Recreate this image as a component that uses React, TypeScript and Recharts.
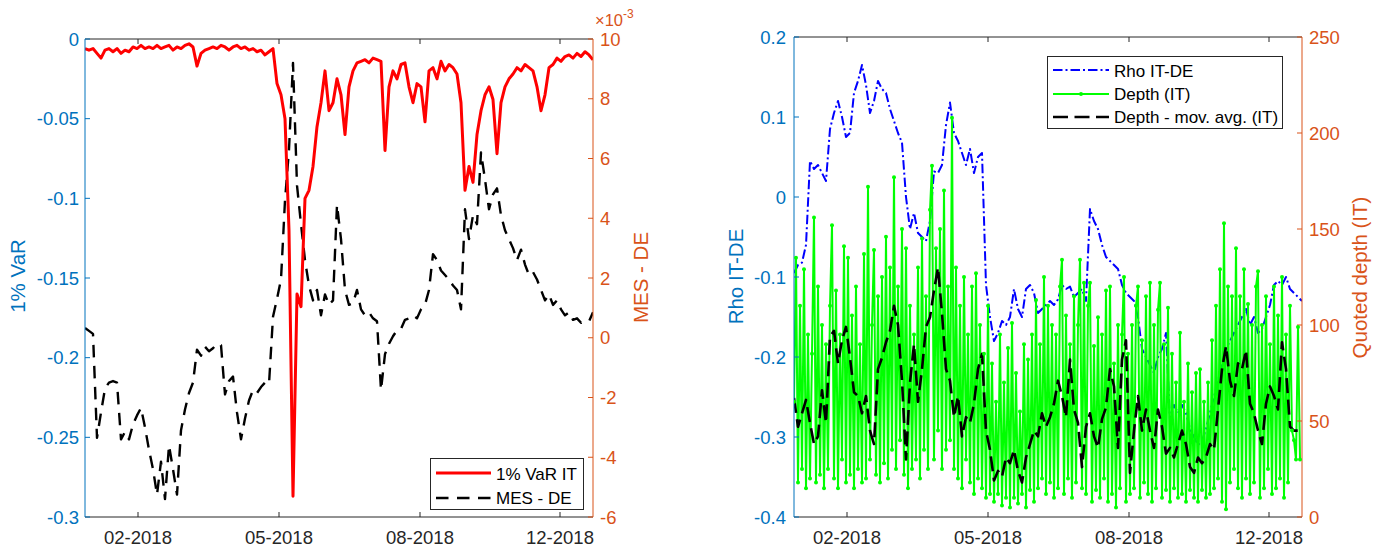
import React from 'react';
import { LineChart, Line, XAxis, YAxis } from 'recharts';

const FONT = '"Liberation Sans", Arial, Helvetica, sans-serif';
const BLUE_AX = '#0072BD';
const ORANGE_AX = '#D95319';
const GRAY_AX = '#262626';

// x is a day index (0..254), the date labels sit on evenly spaced ticks
const DATE_TICKS = [26.5, 97, 167.5, 237.5];
const DATE_LABELS = ['02-2018', '05-2018', '08-2018', '12-2018'];
const VAR_TICKS = [-0.3, -0.25, -0.2, -0.15, -0.1, -0.05, 0];
const MES_TICKS = [-6, -4, -2, 0, 2, 4, 6, 8, 10];
const RHO_TICKS = [-0.4, -0.3, -0.2, -0.1, 0, 0.1, 0.2];
const DEPTH_TICKS = [0, 50, 100, 150, 200, 250];

// left panel, one value every 2 index units
const VAR_IT = [
  -0.006, -0.007, -0.006, -0.009, -0.012, -0.007, -0.006, -0.008, -0.006, -0.009,
  -0.007, -0.008, -0.005, -0.006, -0.004, -0.006, -0.005, -0.006, -0.004, -0.006,
  -0.005, -0.004, -0.007, -0.005, -0.006, -0.004, -0.003, -0.005, -0.017, -0.009,
  -0.007, -0.006, -0.005, -0.006, -0.004, -0.005, -0.007, -0.005, -0.004, -0.006,
  -0.005, -0.007, -0.006, -0.008, -0.007, -0.01, -0.008, -0.006,
  -0.028, -0.035, -0.05, -0.12, -0.287, -0.16, -0.168, -0.1, -0.095, -0.08,
  -0.055, -0.04, -0.02, -0.045, -0.04, -0.025, -0.035, -0.06, -0.03, -0.02,
  -0.015, -0.014, -0.013, -0.015, -0.012, -0.013, -0.014, -0.07, -0.03, -0.02,
  -0.025, -0.016, -0.015, -0.03, -0.04, -0.028, -0.03, -0.052, -0.02, -0.018,
  -0.025, -0.014, -0.02, -0.016, -0.018, -0.022, -0.04, -0.095, -0.08, -0.09,
  -0.06, -0.045, -0.035, -0.03, -0.038, -0.072, -0.04, -0.03, -0.025, -0.022,
  -0.018, -0.02, -0.016, -0.018, -0.02, -0.03, -0.045, -0.035, -0.018, -0.016,
  -0.012, -0.014, -0.011, -0.01, -0.012, -0.009, -0.011, -0.008, -0.01, -0.013,
];

// MES - DE in units of 1e-3
const MES_DE = [
  0.33, 0.23, 0.13, -3.35, -2.5, -1.7, -1.5, -1.45, -1.5, -3.4,
  -3.15, -3.4, -2.9, -2.6, -2.35, -3.0, -3.75, -4.4, -5.25, -4.15,
  -5.4, -3.6, -4.4, -5.25, -3.1, -2.4, -1.85, -1.5, -0.4, -0.6,
  -0.3, -0.45, -0.35, -0.2, -0.25, -1.9, -1.45, -1.3, -2.5, -3.4,
  -2.7, -2.1, -1.75, -1.85, -1.65, -1.5, -1.55,
  0.7, 1.3, 1.95, 4.6, 6.3, 9.2, 5.1, 3.8, 2.6, 1.75,
  1.25, 1.6, 0.75, 1.45, 1.1, 1.25, 4.45, 3.3, 1.6, 1.1,
  1.15, 1.6, 0.95, 0.75, 0.85, 0.65, 0.55, -1.75, -0.55, -0.2,
  0.05, 0.25, 0.3, 0.6, 0.65, 0.75, 0.65, 0.95, 1.1, 1.6,
  2.8, 2.6, 2.25, 2.1, 1.95, 1.75, 1.6, 0.95, 4.3, 3.3,
  4.1, 3.8, 6.2, 5.3, 4.3, 4.8, 5.0, 4.1, 3.6, 3.3,
  3.0, 2.6, 2.95, 2.45, 2.1, 2.2, 1.95, 1.6, 1.25, 1.45,
  1.1, 1.25, 0.95, 0.75, 0.85, 0.6, 0.65, 0.5, 0.55, 0.55,
  0.85,
];

// right panel
const RHO_IT_DE = [
  -0.095, -0.085, -0.082, -0.06, 0.045, 0.035, 0.04, 0.03, 0.02, 0.085,
  0.105, 0.12, 0.1, 0.075, 0.08, 0.13, 0.145, 0.165, 0.14, 0.105,
  0.12, 0.145, 0.135, 0.13, 0.11, 0.095, 0.08, 0.068, 0.0, -0.04,
  -0.02, -0.045, -0.05, -0.055, -0.03, 0.032, 0.03, 0.04, 0.09, 0.118,
  0.08, 0.07, 0.055, 0.04, 0.06, 0.03, 0.05, 0.055, -0.11, -0.15,
  -0.18, -0.17, -0.155, -0.16, -0.15, -0.115, -0.14, -0.15, -0.115, -0.11,
  -0.12, -0.145, -0.14, -0.135, -0.13, -0.135, -0.128, -0.11, -0.115, -0.112,
  -0.125, -0.12, -0.115, -0.13, -0.015, -0.03, -0.04, -0.06, -0.075, -0.08,
  -0.085, -0.09, -0.11, -0.12, -0.125, -0.13, -0.15, -0.19, -0.2, -0.21,
  -0.22, -0.2, -0.19, -0.17, -0.28, -0.26, -0.27, -0.26, -0.27, -0.29,
  -0.3, -0.31, -0.305, -0.29, -0.27, -0.25, -0.23, -0.21, -0.19, -0.18,
  -0.17, -0.16, -0.15, -0.14, -0.16, -0.15, -0.17, -0.165, -0.15, -0.135,
  -0.11, -0.105, -0.11, -0.1, -0.115, -0.12, -0.125, -0.13,
];

const DEPTH_MA = [
  62, 47, 54, 61, 49, 38, 42, 66, 49, 94,
  97, 80, 92, 99, 83, 65, 63, 54, 63, 45,
  38, 77, 83, 91, 97, 110, 100, 71, 30, 70,
  90, 60, 77, 99, 104, 118, 130, 106, 77, 71,
  52, 63, 42, 52, 49, 59, 77, 85, 45, 35,
  19, 24, 21, 31, 28, 35, 24, 18, 31, 38,
  45, 42, 54, 47, 52, 59, 71, 63, 52, 82,
  56, 49, 26, 47, 54, 42, 36, 51, 57, 77,
  68, 36, 82, 92, 23, 45, 63, 45, 56, 45,
  36, 56, 47, 33, 36, 31, 38, 45, 38, 26,
  23, 31, 28, 31, 38, 35, 56, 77, 89, 71,
  63, 80, 77, 87, 59, 54, 45, 38, 59, 68,
  63, 56, 91, 77, 47, 45, 45, 45,
];

// one value every index unit
const DEPTH_IT = [
  60, 135, 18, 110, 25, 129, 15, 95, 20, 85,
  156, 18, 120, 22, 100, 15, 90, 25, 110, 152,
  20, 118, 15, 95, 30, 141, 18, 135, 22, 105,
  15, 120, 25, 90, 18, 137, 20, 172, 30, 100,
  139, 22, 115, 18, 125, 28, 146, 20, 130, 35,
  177, 25, 120, 40, 150, 22, 140, 15, 110, 25,
  95, 30, 130, 20, 145, 35, 115, 25, 160, 183,
  30, 140, 45, 150, 25, 170, 35, 120, 40, 208,
  25, 130, 20, 110, 15, 125, 30, 95, 18, 120,
  12, 127, 20, 100, 15, 85, 10, 110, 12, 80,
  8, 60, 12, 95, 6, 70, 10, 88, 5, 101,
  10, 75, 7, 55, 12, 90, 5, 82, 14, 95,
  8, 113, 15, 90, 20, 125, 12, 110, 18, 100,
  10, 95, 15, 120, 134, 12, 105, 20, 90, 10,
  115, 18, 100, 134, 15, 122, 12, 110, 122, 8,
  89, 14, 104, 10, 95, 20, 118, 8, 120, 12,
  80, 5, 100, 15, 95, 125, 8, 85, 12, 100,
  15, 110, 120, 10, 92, 18, 115, 12, 122, 8,
  100, 15, 108, 122, 10, 90, 14, 109, 8, 85,
  15, 70, 10, 96, 12, 60, 8, 80, 14, 65,
  10, 75, 8, 77, 14, 60, 10, 70, 12, 92,
  15, 110, 20, 129, 8, 153, 4, 120, 18, 115,
  25, 140, 15, 115, 10, 129, 20, 111, 12, 100,
  18, 120, 128, 10, 100, 15, 115, 25, 90, 12,
  120, 15, 105, 20, 125, 10, 95, 18, 110, 45,
  40, 30, 99, 30,
];

const toPoints = (values: number[], step: number) =>
  values.map((v, i) => ({ x: i * step, y: v }));

const fmtDate = (v: number) => DATE_LABELS[DATE_TICKS.indexOf(v)] ?? '';
const tickFont = (fill: string) => ({ fill, fontSize: 18.5, fontFamily: FONT });
const noTick = () => <g />;

function VarPanel() {
  return (
    <LineChart width={680} height={549} margin={{ top: 38, right: 27, bottom: 2, left: 10 }}>
      <XAxis xAxisId="b" type="number" dataKey="x" domain={[0, 254]} allowDataOverflow
        ticks={DATE_TICKS} interval={0} tickFormatter={fmtDate} stroke={GRAY_AX}
        tickSize={-5} tickMargin={19} height={30} tick={tickFont(GRAY_AX)} />
      <XAxis xAxisId="t" orientation="top" type="number" dataKey="x" domain={[0, 254]} allowDataOverflow
        ticks={DATE_TICKS} interval={0} stroke={GRAY_AX} tickSize={-5} height={1} tick={noTick} />
      <YAxis yAxisId="var" type="number" domain={[-0.3, 0]} allowDataOverflow ticks={VAR_TICKS}
        interval={0} width={75} stroke={BLUE_AX} tickSize={-5} tickMargin={11} tick={tickFont(BLUE_AX)} />
      <YAxis yAxisId="mes" orientation="right" type="number" domain={[-6, 10]} allowDataOverflow
        ticks={MES_TICKS} interval={0} width={60} stroke={ORANGE_AX} tickSize={-5} tickMargin={12}
        tick={tickFont(ORANGE_AX)} />
      <Line xAxisId="b" yAxisId="mes" data={toPoints(MES_DE, 2)} dataKey="y" type="linear"
        stroke="#000000" strokeWidth={2.4} strokeDasharray="12.5 8.5" strokeLinejoin="round"
        dot={false} activeDot={false} isAnimationActive={false} />
      <Line xAxisId="b" yAxisId="var" data={toPoints(VAR_IT, 2)} dataKey="y" type="linear"
        stroke="#ff0000" strokeWidth={3} strokeLinejoin="round"
        dot={false} activeDot={false} isAnimationActive={false} />
    </LineChart>
  );
}

function DepthPanel() {
  return (
    <LineChart width={700} height={549} margin={{ top: 36, right: 28, bottom: 2, left: 10 }}>
      <XAxis xAxisId="b" type="number" dataKey="x" domain={[0, 254]} allowDataOverflow
        ticks={DATE_TICKS} interval={0} tickFormatter={fmtDate} stroke={GRAY_AX}
        tickSize={-5} tickMargin={19} height={30} tick={tickFont(GRAY_AX)} />
      <XAxis xAxisId="t" orientation="top" type="number" dataKey="x" domain={[0, 254]} allowDataOverflow
        ticks={DATE_TICKS} interval={0} stroke={GRAY_AX} tickSize={-5} height={1} tick={noTick} />
      <YAxis yAxisId="rho" type="number" domain={[-0.4, 0.2]} allowDataOverflow ticks={RHO_TICKS}
        interval={0} width={84} stroke={BLUE_AX} tickSize={-5} tickMargin={13} tick={tickFont(BLUE_AX)} />
      <YAxis yAxisId="depth" orientation="right" type="number" domain={[0, 250]} allowDataOverflow
        ticks={DEPTH_TICKS} interval={0} width={70} stroke={ORANGE_AX} tickSize={-5} tickMargin={12}
        tick={tickFont(ORANGE_AX)} />
      <Line xAxisId="b" yAxisId="rho" data={toPoints(RHO_IT_DE, 2)} dataKey="y" type="linear"
        stroke="#0000ff" strokeWidth={2} strokeDasharray="9.5 3 2 3" strokeLinejoin="round"
        dot={false} activeDot={false} isAnimationActive={false} />
      <Line xAxisId="b" yAxisId="depth" data={toPoints(DEPTH_IT, 1)} dataKey="y" type="linear"
        stroke="#00ff00" strokeWidth={2} strokeLinejoin="round"
        dot={{ r: 2, fill: '#00ff00', stroke: 'none' }}
        activeDot={false} isAnimationActive={false} />
      <Line xAxisId="b" yAxisId="depth" data={toPoints(DEPTH_MA, 2)} dataKey="y" type="linear"
        stroke="#000000" strokeWidth={2.6} strokeDasharray="15 6.5" strokeLinejoin="round"
        dot={false} activeDot={false} isAnimationActive={false} />
    </LineChart>
  );
}

function Overlay() {
  const lab = { fontSize: 20.5, textAnchor: 'middle' as const };
  return (
    <svg width={1389} height={549} fontFamily={FONT}
      style={{ position: 'absolute', left: 0, top: 0, pointerEvents: 'none' }}>
      <text transform="translate(25,276) rotate(-90)" {...lab} fill={BLUE_AX}>1% VaR</text>
      <text transform="translate(648,277.5) rotate(-90)" {...lab} fill={ORANGE_AX}>MES - DE</text>
      <text transform="translate(743,276.5) rotate(-90)" {...lab} fill={BLUE_AX}>Rho IT-DE</text>
      <text transform="translate(1367,277.5) rotate(-90)" {...lab} fill={ORANGE_AX}>Quoted depth (IT)</text>
      <text x={595} y={26} fontSize={16.5} fill={ORANGE_AX}>
        ×10<tspan dy={-8} fontSize={12}>-3</tspan>
      </text>

      <rect x={430.5} y={458.5} width={153} height={51} fill="#ffffff" stroke={GRAY_AX} strokeWidth={1} />
      <line x1={436} x2={491} y1={473} y2={473} stroke="#ff0000" strokeWidth={3} />
      <text x={496} y={480} fontSize={17} fill="#000">1% VaR IT</text>
      <line x1={436} x2={491} y1={498} y2={498} stroke="#000" strokeWidth={2.4} strokeDasharray="12.5 8.5" />
      <text x={496} y={503.5} fontSize={17} fill="#000">MES - DE</text>

      <rect x={1047.5} y={56.5} width={235} height={72} fill="#ffffff" stroke={GRAY_AX} strokeWidth={1} />
      <line x1={1053} x2={1109} y1={70} y2={70} stroke="#0000ff" strokeWidth={2} strokeDasharray="9.5 3 2 3" />
      <text x={1114} y={76.5} fontSize={17} fill="#000">Rho IT-DE</text>
      <line x1={1053} x2={1109} y1={94} y2={94} stroke="#00ff00" strokeWidth={2} />
      <circle cx={1081} cy={94} r={2} fill="#00ff00" />
      <text x={1114} y={100} fontSize={17} fill="#000">Depth (IT)</text>
      <line x1={1053} x2={1109} y1={117} y2={117} stroke="#000" strokeWidth={2.6} strokeDasharray="15 6.5" />
      <text x={1114} y={123} fontSize={17} fill="#000">Depth - mov. avg. (IT)</text>
    </svg>
  );
}

export default function App() {
  return (
    <div style={{ position: 'absolute', left: 0, top: 0, width: 1389, height: 549, background: '#fff' }}>
      <div style={{ position: 'absolute', left: 0, top: 0 }}>
        <VarPanel />
      </div>
      <div style={{ position: 'absolute', left: 700, top: 0 }}>
        <DepthPanel />
      </div>
      <Overlay />
    </div>
  );
}
